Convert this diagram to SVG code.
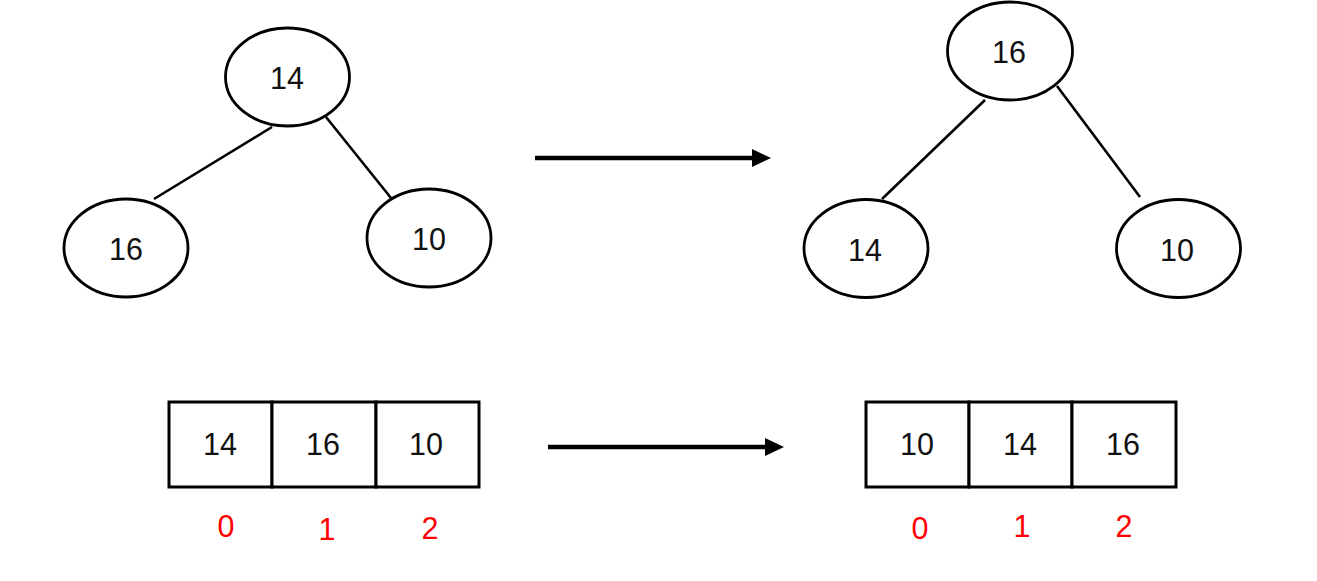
<svg xmlns="http://www.w3.org/2000/svg" width="1317" height="581" viewBox="0 0 1317 581">
<style>
.node ellipse{fill:#fff;stroke:#000;stroke-width:2.8}
.edge{stroke:#000;stroke-width:2.6;fill:none}
.cell{fill:#fff;stroke:#000;stroke-width:3}
.t{font-family:"Liberation Sans",Arial,sans-serif;font-size:30.5px;fill:#111;text-anchor:middle}
.idx{font-family:"Liberation Sans",Arial,sans-serif;font-size:30.5px;fill:#ff0000;text-anchor:middle}
.arrow{stroke:#000;stroke-width:4.5;fill:none}
</style>
<defs>
<marker id="ah" markerWidth="19" markerHeight="18" refX="0" refY="9" orient="auto" markerUnits="userSpaceOnUse">
<path d="M0,0 L19,9 L0,18 Z" fill="#000"/>
</marker>
</defs>
<g id="connectors">
<line class="edge" x1="272" y1="127" x2="154" y2="199"/>
<line class="edge" x1="326" y1="117" x2="391" y2="198"/>
<line class="edge" x1="985" y1="100" x2="882" y2="199"/>
<line class="edge" x1="1057" y1="86" x2="1140" y2="197"/>
<line class="arrow" x1="535" y1="158" x2="752" y2="158" marker-end="url(#ah)"/>
<line class="arrow" x1="548" y1="447" x2="765" y2="447" marker-end="url(#ah)"/>
</g>
<g id="l14" class="node"><ellipse cx="287.5" cy="77" rx="62" ry="49"/><text class="t" x="287" y="89">14</text></g>
<g id="l16" class="node"><ellipse cx="126" cy="248" rx="62" ry="49"/><text class="t" x="126" y="260">16</text></g>
<g id="l10" class="node"><ellipse cx="429" cy="238" rx="62" ry="49"/><text class="t" x="429" y="250">10</text></g>
<g id="r16" class="node"><ellipse cx="1010" cy="51" rx="62.5" ry="49"/><text class="t" x="1009" y="63">16</text></g>
<g id="r14" class="node"><ellipse cx="866" cy="248.5" rx="62" ry="49"/><text class="t" x="865" y="261">14</text></g>
<g id="r10" class="node"><ellipse cx="1178.5" cy="248.5" rx="62" ry="49"/><text class="t" x="1177" y="261">10</text></g>
<g id="leftArray">
<rect class="cell" x="169" y="402" width="103" height="85"/>
<rect class="cell" x="272" y="402" width="104" height="85"/>
<rect class="cell" x="376" y="402" width="103" height="85"/>
<text class="t" x="220" y="455">14</text>
<text class="t" x="323" y="455">16</text>
<text class="t" x="426" y="455">10</text>
<text class="idx" x="226" y="537">0</text>
<text class="idx" x="327" y="540">1</text>
<text class="idx" x="430" y="539">2</text>
</g>
<g id="rightArray">
<rect class="cell" x="866" y="402" width="103" height="85"/>
<rect class="cell" x="969" y="402" width="103" height="85"/>
<rect class="cell" x="1072" y="402" width="104" height="85"/>
<text class="t" x="917" y="455">10</text>
<text class="t" x="1020" y="455">14</text>
<text class="t" x="1123" y="455">16</text>
<text class="idx" x="920" y="539">0</text>
<text class="idx" x="1022" y="537">1</text>
<text class="idx" x="1124" y="537">2</text>
</g>
</svg>
